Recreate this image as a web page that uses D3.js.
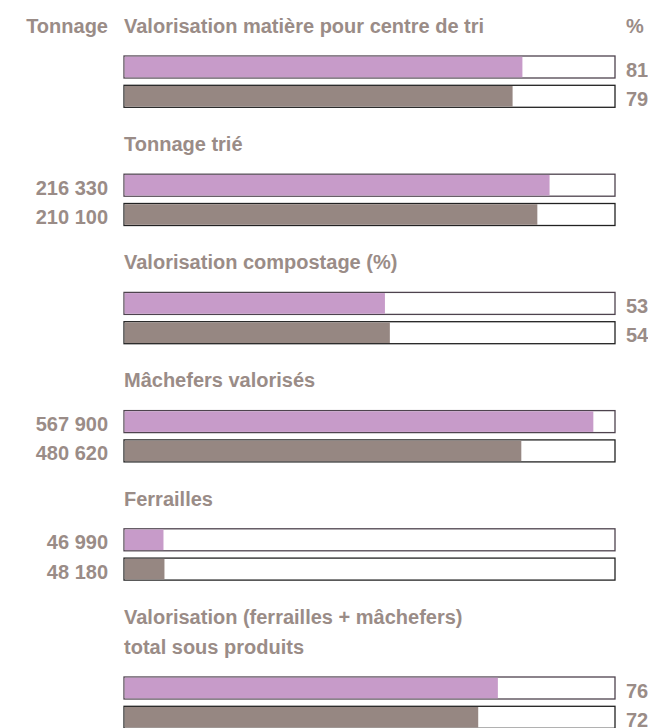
<!DOCTYPE html>
<html>
<head>
<meta charset="utf-8">
<script src="https://cdn.jsdelivr.net/npm/d3@7"></script>
<style>
  html, body { margin: 0; padding: 0; background: #fff; }
  svg text { font-family: "Liberation Sans", Arial, sans-serif; font-weight: bold; fill: #9a8c87; }
</style>
</head>
<body>
<div id="chart"></div>
<script>
// the groups, top to bottom
var titles = [
  ["Valorisation matière pour centre de tri"],
  ["Tonnage trié"],
  ["Valorisation compostage (%)"],
  ["Mâchefers valorisés"],
  ["Ferrailles"],
  ["Valorisation (ferrailles + mâchefers)", "total sous produits"]
];
// "pct" values are printed on the right, "t" values (tonnage) on the left
var units = ["pct", "t", "pct", "t", "t", "pct"];
var valuesA = [81, 216330, 53, 567900, 46990, 76];   // purple bar
var valuesB = [79, 210100, 54, 480620, 48180, 72];   // grey bar
var scaleMax = [100, 250000, 100, 595000, 595000, 100];
var headLeft = "Tonnage";
var headRight = "%";

var width = 648, height = 728;
var barX0 = 124, barX1 = 615;
var barH = 22, barGap = 7.3;
var groupPitch = 118.2, lineH = 30;
var colA = "#c79bc9", colB = "#968782";

var fr = d3.formatLocale({ decimal: ",", thousands: " ", grouping: [3], currency: ["", " €"] });
var fmt = fr.format(",d");

var svg = d3.select("#chart").append("svg")
  .attr("width", width)
  .attr("height", height);

// headers
svg.append("text").attr("x", 108).attr("y", 32.7)
  .attr("text-anchor", "end").style("font-size", "20px").text(headLeft);
svg.append("text").attr("x", 626).attr("y", 32.7)
  .style("font-size", "20px").text(headRight);

var y = 32.7; // baseline of the current title
titles.forEach(function (lines, i) {
  var x = d3.scaleLinear().domain([0, scaleMax[i]]).range([barX0, barX1]);
  var g = svg.append("g");

  lines.forEach(function (l, k) {
    g.append("text")
      .attr("x", barX0)
      .attr("y", y + k * lineH)
      .style("font-size", "20px")
      .text(l);
  });

  var barTop = y + (lines.length - 1) * lineH + 23.3;
  var rows = [
    { v: valuesA[i], c: colA, s: "#4e434e" },
    { v: valuesB[i], c: colB, s: "#222" }
  ];

  rows.forEach(function (r, k) {
    var by = barTop + k * (barH + barGap);
    g.append("rect")
      .attr("x", x(0)).attr("y", by)
      .attr("width", x(scaleMax[i]) - x(0)).attr("height", barH)
      .attr("fill", "#fff")
      .attr("stroke", r.s).attr("stroke-width", 1.3);
    g.append("rect")
      .attr("x", x(0) + 0.7).attr("y", by + 0.7)
      .attr("width", x(r.v) - x(0)).attr("height", barH - 1.4)
      .attr("fill", r.c);

    if (units[i] == "pct") {
      g.append("text")
        .attr("x", 626).attr("y", by + barH - 1.5)
        .style("font-size", "20px")
        .text(r.v);
    } else {
      g.append("text")
        .attr("x", 108).attr("y", by + barH - 1.5)
        .attr("text-anchor", "end")
        .style("font-size", "20px")
        .text(fmt(r.v));
    }
  });

  y += groupPitch + (lines.length - 1) * lineH;
});
</script>
</body>
</html>
